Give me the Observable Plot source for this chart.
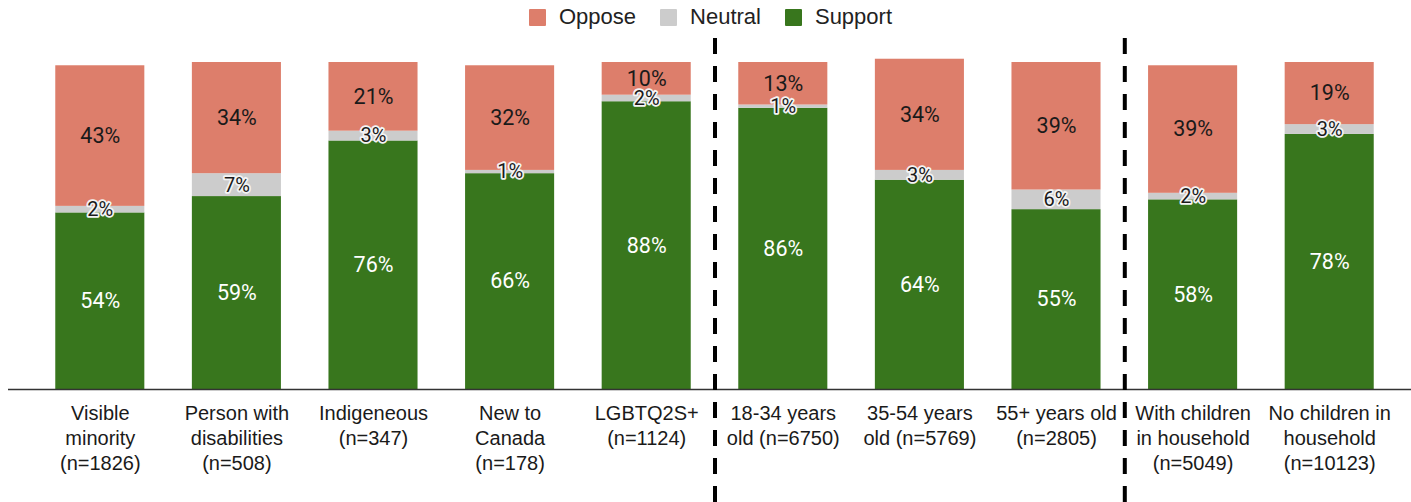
<!DOCTYPE html>
<html>
<head>
<meta charset="utf-8">
<script src="https://cdn.jsdelivr.net/npm/d3@7"></script>
<script src="https://cdn.jsdelivr.net/npm/@observablehq/plot@0.6"></script>
<style>
  html, body { margin: 0; padding: 0; background: #fff; }
  #legend { height: 34px; display: flex; justify-content: center; align-items: center; font-family: "Liberation Sans", Arial, sans-serif; font-size: 22px; color: #222; padding-left: 10px; box-sizing: border-box; }
  #legend .item { display: flex; align-items: center; margin: 0 12px; }
  #legend .sw { width: 17px; height: 17px; margin-right: 13px; border-radius: 1px; }
  svg { display: block; }
</style>
</head>
<body>
<div id="legend"></div>
<div id="chart"></div>
<script>
const categories = [
  "Visible\nminority\n(n=1826)",
  "Person with\ndisabilities\n(n=508)",
  "Indigeneous\n(n=347)",
  "New to\nCanada\n(n=178)",
  "LGBTQ2S+\n(n=1124)",
  "18-34 years\nold (n=6750)",
  "35-54 years\nold (n=5769)",
  "55+ years old\n(n=2805)",
  "With children\nin household\n(n=5049)",
  "No children in\nhousehold\n(n=10123)"
];
const support = [54, 59, 76, 66, 88, 86, 64, 55, 58, 78];
const neutral = [2, 7, 3, 1, 2, 1, 3, 6, 2, 3];
const oppose  = [43, 34, 21, 32, 10, 13, 34, 39, 39, 19];
const seriesNames = ["Oppose", "Neutral", "Support"];
const seriesColors = ["#dd7e6b", "#cccccc", "#38761d"];
const dividersAfter = ["LGBTQ2S+\n(n=1124)", "55+ years old\n(n=2805)"];

// tidy table: stacked bottom-up Support, Neutral, Oppose
const rows = [];
categories.forEach((c, i) => {
  rows.push({cat: c, resp: "Support", value: support[i]});
  rows.push({cat: c, resp: "Neutral", value: neutral[i]});
  rows.push({cat: c, resp: "Oppose", value: oppose[i]});
});

// legend
const legend = document.getElementById("legend");
seriesNames.forEach((s, i) => {
  const it = document.createElement("div");
  it.className = "item";
  it.innerHTML = `<span class="sw" style="background:${seriesColors[i]}"></span><span>${s}</span>`;
  legend.appendChild(it);
});

const W = 1411, H = 468;
const mL = 31.5, mR = 13.5, mT = 28, mB = 113;
const step = (W - mL - mR) / categories.length;
const labelFont = "Roboto, 'Liberation Sans', sans-serif";

const chart = Plot.plot({
  width: W,
  height: H,
  marginLeft: mL,
  marginRight: mR,
  marginTop: mT,
  marginBottom: mB,
  style: {background: "white", overflow: "visible"},
  x: {domain: categories, paddingInner: 0.348, paddingOuter: 0.174, round: false, label: null},
  y: {domain: [0, 100], axis: null},
  color: {domain: seriesNames, range: seriesColors},
  marks: [
    Plot.barY(rows, Plot.stackY({x: "cat", y: "value", z: "resp", fill: "resp"})),
    Plot.text(rows, Plot.stackY({x: "cat", y: "value", z: "resp",
      text: d => d.resp === "Support" ? d.value + "%" : null,
      fill: "white", fontSize: 21.5, fontFamily: labelFont})),
    Plot.text(rows, Plot.stackY({x: "cat", y: "value", z: "resp",
      text: d => d.resp === "Oppose" ? d.value + "%" : null,
      fill: "#1a1a1a", fontSize: 21.5, fontFamily: labelFont})),
    Plot.text(rows, Plot.stackY({x: "cat", y: "value", z: "resp",
      text: d => d.resp === "Neutral" ? d.value + "%" : null,
      fill: "#1a1a1a", stroke: "#f4f4f4", strokeWidth: 3.5, paintOrder: "stroke",
      fontSize: 20, fontFamily: labelFont})),
    Plot.ruleY([0], {stroke: "#333", strokeWidth: 1.3, insetLeft: -23.5, insetRight: -13.5}),
    Plot.ruleX(dividersAfter, {x: d => d, dx: step / 2, stroke: "black", strokeWidth: 4,
      strokeDasharray: "16 12", insetTop: -24, insetBottom: -mB}),
    Plot.axisX({tickSize: 0, tickPadding: 12.5, fontSize: 20, lineHeight: 1.25,
      fontFamily: "'Liberation Sans', Arial, sans-serif",
      fill: "#1a1a1a", label: null})
  ]
});
document.getElementById("chart").appendChild(chart);
</script>
</body>
</html>
